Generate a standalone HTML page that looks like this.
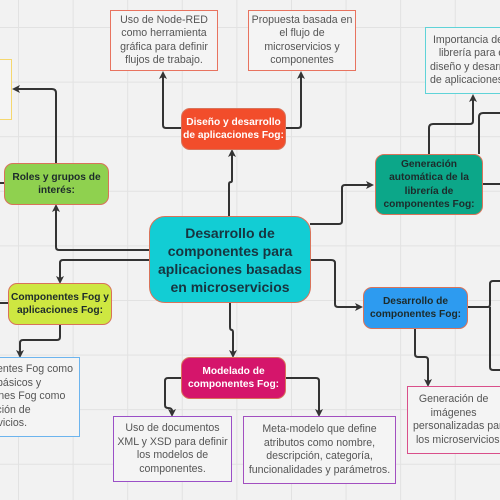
<!DOCTYPE html>
<html><head><meta charset="utf-8"><style>
html,body{margin:0;padding:0;}
body{width:500px;height:500px;overflow:hidden;background:#f2f2f2;position:relative;font-family:"Liberation Sans","DejaVu Sans",sans-serif;}
.grid{position:absolute;left:0;top:0;width:500px;height:500px;background-image:linear-gradient(to right,#e2e2e2 1px,transparent 1px),linear-gradient(to bottom,#e2e2e2 1px,transparent 1px);background-size:54.6px 54.6px;background-position:18px 27px;}
.b{position:absolute;box-sizing:border-box;display:flex;align-items:center;justify-content:center;text-align:center;overflow:hidden;white-space:nowrap;}
.note{background:#f4f4f4;border:1.5px solid;color:#555;font-size:10.6px;line-height:13.5px;}
.node{border-radius:9px;border:1.5px solid #d8735a;font-weight:bold;font-size:10.2px;line-height:13.5px;color:#1d2b2b;}
.in{white-space:nowrap;}
svg{position:absolute;left:0;top:0;}
</style></head><body>
<div class="grid"></div>
<svg width="500" height="500" viewBox="0 0 500 500" fill="none" stroke="#333" stroke-width="2">
<defs><marker id="a" markerWidth="8" markerHeight="8" refX="6" refY="4" orient="auto" markerUnits="userSpaceOnUse"><path d="M0,0 L8,4 L0,8 L2,4 Z" fill="#333" stroke="none"/></marker></defs>
<g stroke-linejoin="round">
<path d="M181 128 H166 Q163 128 163 125 V73" marker-end="url(#a)"/>
<path d="M285 128 H298 Q301 128 301 125 V73" marker-end="url(#a)"/>
<path d="M229 216 V184 Q229 182 231 182 Q232 182 232 180 V151" marker-end="url(#a)"/>
<path d="M56 163 V93 Q56 89 52 89 H14" marker-end="url(#a)"/>
<path d="M149 250 H59 Q56 250 56 247 V206" marker-end="url(#a)"/>
<path d="M149 260 H63 Q60 260 60 263 V282" marker-end="url(#a)"/>
<path d="M4 183 H0"/><path d="M8 303 H0"/>
<path d="M60 324 V337 Q60 340 57 340 H23 Q20 340 20 343 V356" marker-end="url(#a)"/>
<path d="M310 224 H339 Q342 224 342 221 V188 Q342 185 345 185 H372" marker-end="url(#a)"/>
<path d="M310 260 H331 Q335 260 335 263 V304 Q335 307 338 307 H361" marker-end="url(#a)"/>
<path d="M429 154 V128 Q429 124 433 124 H470 Q473 124 473 121 V96" marker-end="url(#a)"/>
<path d="M479 154 V117 Q479 113 483 113 H500"/>
<path d="M482 184 H500"/>
<path d="M467 307 H488 Q490 307 490 304 V284 Q490 281 493 281 H500"/>
<path d="M490 307 V367 Q490 370 493 370 H500"/>
<path d="M415 328 V354 Q415 357 418 357 H425 Q428 357 428 360 V385" marker-end="url(#a)"/>
<path d="M230 302 V327 Q230 330 232 330 Q233 330 233 333 V356" marker-end="url(#a)"/>
<path d="M181 378 H168 Q165 378 165 381 V405 Q165 408 168 408 Q172 408 172 411 V415" marker-end="url(#a)"/>
<path d="M285 378 H316 Q319 378 319 381 V415" marker-end="url(#a)"/>
</g></svg>

<div class="b note" style="left:110px;top:10px;width:108px;height:61px;border-color:#e8735f;">Uso de Node-RED<br>como herramienta<br>gráfica para definir<br>flujos de trabajo.</div>
<div class="b note" style="left:248px;top:10px;width:108px;height:61px;border-color:#e8735f;">Propuesta basada en<br>el flujo de<br>microservicios y<br>componentes</div>
<div class="b note" style="left:0;top:59px;width:12px;height:61px;border-color:#f5d76e;border-left:none;"></div>
<div class="b note" style="left:425px;top:27px;width:75px;height:67px;border-color:#5fd3d8;border-right:none;justify-content:flex-start;text-align:left;padding-left:4px;"><div class="in">&nbsp;Importancia de la<br>&nbsp;&nbsp;&nbsp;librería para el<br>diseño y desarrollo<br>de aplicaciones Fog</div></div>
<div class="b note" style="left:0;top:357px;width:80px;height:80px;border-color:#6cb4ee;border-left:none;justify-content:flex-end;text-align:left;padding-right:6px;"><div class="in">Componentes Fog como<br>bloques básicos y<br>aplicaciones Fog como<br>composición de<br>microservicios.</div></div>
<div class="b note" style="left:113px;top:416px;width:119px;height:66px;border-color:#9a4fc7;">Uso de documentos<br>XML y XSD para definir<br>los modelos de<br>componentes.</div>
<div class="b note" style="left:243px;top:416px;width:153px;height:68px;border-color:#a24fc0;">Meta-modelo que define<br>atributos como nombre,<br>descripción, categoría,<br>funcionalidades y parámetros.</div>
<div class="b note" style="left:407px;top:386px;width:93px;height:68px;border-color:#d94f8a;border-right:none;justify-content:flex-start;text-align:left;padding-left:5px;"><div class="in">&nbsp;&nbsp;Generación de<br>&nbsp;&nbsp;&nbsp;&nbsp;&nbsp;&nbsp;imágenes<br>personalizadas para<br>&nbsp;los microservicios.</div></div>

<div class="b node" style="left:181px;top:108px;width:105px;height:42px;background:#f24d2b;color:#fff;">Diseño y desarrollo<br>de aplicaciones Fog:</div>
<div class="b node" style="left:4px;top:163px;width:105px;height:42px;background:#8fd14f;">Roles y grupos de<br>interés:</div>
<div class="b node" style="left:149px;top:216px;width:162px;height:87px;background:#12cdd4;border-radius:16px;font-size:14px;line-height:18px;color:#173540;">Desarrollo de<br>componentes para<br>aplicaciones basadas<br>en microservicios</div>
<div class="b node" style="left:375px;top:154px;width:108px;height:61px;background:#0ca789;">Generación<br>automática de la<br>librería de<br>componentes Fog:</div>
<div class="b node" style="left:8px;top:283px;width:104px;height:42px;background:#cee741;">Componentes Fog y<br>aplicaciones Fog:</div>
<div class="b node" style="left:363px;top:287px;width:105px;height:42px;background:#2d9bf0;">Desarrollo de<br>componentes Fog:</div>
<div class="b node" style="left:181px;top:357px;width:105px;height:42px;background:#d5156b;color:#fff;">Modelado de<br>componentes Fog:</div>
</body></html>
